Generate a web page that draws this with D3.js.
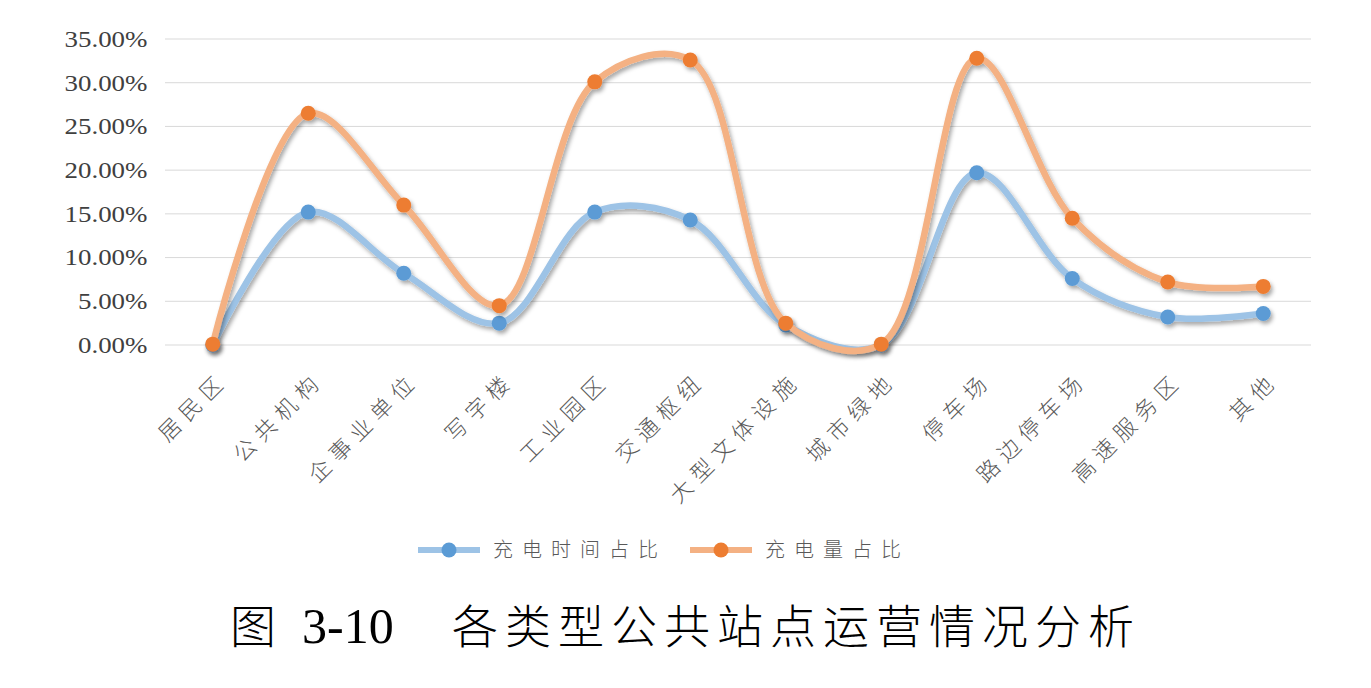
<!DOCTYPE html>
<html>
<head>
<meta charset="utf-8">
<script src="https://cdn.jsdelivr.net/npm/d3@7"></script>
<style>
  body { margin: 0; background: #fff; }
  svg { display: block; }
</style>
</head>
<body>
<div id="chart"></div>
<script>
// categories (x axis)
var categories = ["居民区", "公共机构", "企事业单位", "写字楼", "工业园区", "交通枢纽",
                  "大型文体设施", "城市绿地", "停车场", "路边停车场", "高速服务区", "其他"];
// series values (fractions)
var timeShare   = [0.000, 0.152, 0.082, 0.025, 0.152, 0.143, 0.023, 0.000, 0.197, 0.076, 0.032, 0.036];
var energyShare = [0.001, 0.265, 0.160, 0.045, 0.301, 0.326, 0.025, 0.001, 0.328, 0.145, 0.072, 0.067];
var seriesNames = ["充电时间占比", "充电量占比"];
var yTicks = [0, 0.05, 0.10, 0.15, 0.20, 0.25, 0.30, 0.35];
var titleParts = ["图", "3-10", "各类型公共站点运营情况分析"];

var W = 1371, H = 688;
var margin = {top: 39, left: 165, right: 60},
    plotW = W - margin.left - margin.right,
    plotH = 345 - margin.top;

var svg = d3.select("#chart").append("svg")
    .attr("width", W).attr("height", H);

var defs = svg.append("defs");
var f = defs.append("filter").attr("id", "shadow")
    .attr("x", "-10%").attr("y", "-10%").attr("width", "130%").attr("height", "130%");
f.append("feDropShadow").attr("dx", 2).attr("dy", 3).attr("stdDeviation", 2)
    .attr("flood-color", "#000").attr("flood-opacity", 0.35);

var g = svg.append("g")
    .attr("transform", "translate(" + margin.left + "," + margin.top + ")");

var x = d3.scaleBand().domain(categories).range([0, plotW]);
var y = d3.scaleLinear().domain([0, 0.35]).range([plotH, 0]);

// gridlines
g.selectAll(".grid").data(yTicks).enter().append("line")
    .attr("x1", 0).attr("x2", plotW)
    .attr("y1", function(d){ return y(d); })
    .attr("y2", function(d){ return y(d); })
    .attr("stroke", "#d9d9d9").attr("stroke-width", 1);

// y axis labels (slightly stretched like the scan)
var yAxis = g.append("g")
    .call(d3.axisLeft(y).tickValues(yTicks).tickSize(0).tickPadding(15)
      .tickFormat(function(d){ return (d * 100).toFixed(2) + "%"; }));
yAxis.select(".domain").remove();
yAxis.selectAll("text")
    .attr("transform", "scale(1.17,1)")
    .style("font-family", "'Liberation Serif', 'Times New Roman', serif")
    .style("font-size", "23px")
    .attr("fill", "#404040");

// x axis labels, rotated
var xAxis = g.append("g")
    .attr("transform", "translate(0," + plotH + ")")
    .call(d3.axisBottom(x).tickSize(0).tickFormat(""));
xAxis.select(".domain").remove();
xAxis.selectAll(".tick").append("text")
    .attr("transform", "translate(11,31) rotate(-45)")
    .attr("text-anchor", "end")
    .attr("dy", "0.35em")
    .style("font-family", "'Noto Sans CJK SC', sans-serif")
    .style("font-size", "22px")
    .style("font-weight", 300)
    .style("letter-spacing", "7px")
    .attr("fill", "#595959")
    .text(function(d){ return d; });

var lineColors = ["#9dc3e6", "#f4b183"];
var dotColors = ["#5b9bd5", "#ed7d31"];
var allSeries = [timeShare, energyShare];

var line = d3.line()
    .x(function(d, i){ return x(categories[i]) + x.bandwidth() / 2; })
    .y(function(d){ return y(d); })
    .curve(d3.curveCatmullRom.alpha(0.5));

allSeries.forEach(function(vals, s) {
  var sg = g.append("g").attr("filter", "url(#shadow)");
  sg.append("path")
      .datum(vals)
      .attr("d", line)
      .attr("fill", "none")
      .attr("stroke", lineColors[s])
      .attr("stroke-width", 6.5)
      .attr("stroke-linecap", "round");
  sg.selectAll("circle").data(vals).enter().append("circle")
      .attr("cx", function(d, i){ return x(categories[i]) + x.bandwidth() / 2; })
      .attr("cy", function(d){ return y(d); })
      .attr("r", 7.5)
      .attr("fill", dotColors[s]);
});

// legend
var legend = svg.append("g").attr("transform", "translate(418,550)");
var legX = [0, 272];
seriesNames.forEach(function(name, s) {
  var lg = legend.append("g").attr("transform", "translate(" + legX[s] + ",0)");
  lg.append("line").attr("x1", 0).attr("x2", 62).attr("y1", 0).attr("y2", 0)
      .attr("stroke", lineColors[s]).attr("stroke-width", 6);
  lg.append("circle").attr("cx", 31).attr("cy", 0).attr("r", 7.5).attr("fill", dotColors[s]);
  lg.append("text").attr("x", 75).attr("y", 0).attr("dy", "0.35em")
      .style("font-family", "'Noto Sans CJK SC', sans-serif")
      .style("font-size", "20px")
      .style("font-weight", 300)
      .style("letter-spacing", "9px")
      .attr("fill", "#595959")
      .text(name);
});

// caption
var cap = svg.append("text").attr("y", 643)
    .style("font-size", "46px").style("font-weight", 300).attr("fill", "#000");
cap.append("tspan").attr("x", 230)
    .style("font-family", "'Noto Sans CJK SC', sans-serif")
    .text(titleParts[0]);
cap.append("tspan").attr("x", 302)
    .style("font-family", "'Liberation Serif', serif")
    .style("font-size", "50px")
    .style("font-weight", 400)
    .text(titleParts[1]);
cap.append("tspan").attr("x", 452)
    .style("font-family", "'Noto Sans CJK SC', sans-serif")
    .style("letter-spacing", "7px")
    .text(titleParts[2]);
</script>
</body>
</html>
